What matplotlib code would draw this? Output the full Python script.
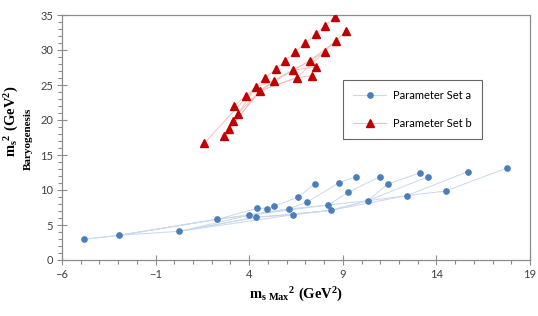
import matplotlib
matplotlib.use("Agg")
import matplotlib.pyplot as plt
from matplotlib.ticker import MultipleLocator
from matplotlib.lines import Line2D

plt.rcParams["mathtext.fontset"] = "custom"
plt.rcParams["mathtext.rm"] = "Liberation Serif:bold"
plt.rcParams["mathtext.it"] = "Liberation Serif:bold"
plt.rcParams["mathtext.bf"] = "Liberation Serif:bold"

# ---- data: Parameter Set a (blue) ----
a_x = [-4.82, -2.94, 0.27, 2.30, 3.99, 4.35, 4.42, 4.95, 5.31, 6.11, 6.36, 6.61, 7.11, 7.51,
       8.23, 8.37, 8.80, 9.28, 9.71, 10.33, 10.97, 11.41, 12.41, 13.14, 13.55, 14.50, 15.67, 17.77]
a_y = [2.96, 3.53, 4.10, 5.81, 6.39, 6.10, 7.39, 7.33, 7.67, 7.29, 6.47, 8.96, 8.29, 10.90,
       7.86, 7.10, 11.04, 9.67, 11.90, 8.47, 11.90, 10.86, 9.19, 12.47, 11.90, 9.86, 12.61, 13.14]
# chains of point indices joined by lines
a_chains = [
    [0, 1, 2, 5, 10, 15, 22, 25, 27],
    [0, 1, 3, 4, 9, 14, 19, 22, 26],
    [1, 3, 6, 7, 8, 11, 13],
    [1, 3, 9, 12, 16, 18],
    [2, 4, 14, 17, 20],
    [2, 5, 15, 19, 21, 23],
    [2, 10, 15, 19, 24],
]

# ---- data: Parameter Set b (red) ----
b_x = [1.60, 2.64, 2.90, 3.15, 3.39, 3.20, 3.83, 4.35, 4.58, 4.86, 5.31, 5.42, 5.93,
       6.32, 6.54, 6.46, 7.00, 7.25, 7.34, 7.55, 7.55, 8.03, 8.05, 8.57, 8.62, 9.19]
b_y = [16.67, 17.71, 18.76, 19.86, 20.90, 22.04, 23.43, 24.71, 24.19, 26.00, 25.61, 27.24, 28.47,
       27.10, 26.04, 29.76, 30.96, 28.47, 26.33, 32.24, 27.57, 29.76, 33.47, 34.67, 31.29, 32.67]
b_chains = [
    [5, 6, 7, 9, 11, 12, 15, 16, 19, 22, 23],
    [0, 7, 8, 10, 13, 17, 21, 24, 25],
    [1, 8, 14, 18],
    [2, 8, 13, 20],
    [3, 7, 10, 17, 24],
    [4, 8, 14, 21],
]

labels = ["Parameter Set a", "Parameter Set b"]
x_ticks = [-6, -1, 4, 9, 14, 19]
y_ticks = [0, 5, 10, 15, 20, 25, 30, 35]

blue, blue_line = "#4A7EBB", "#C9D8EC"
red, red_line = "#C00000", "#F2C0C0"
grey = "#8C8C8C"

fig = plt.figure(figsize=(5.38, 3.16), dpi=100)
ax = fig.add_axes([62 / 538, 56 / 316, (530 - 62) / 538, (260 - 15) / 316])

for ch in a_chains:
    ax.plot([a_x[i] for i in ch], [a_y[i] for i in ch], color=blue_line, lw=0.7, zorder=1)
for ch in b_chains:
    ax.plot([b_x[i] for i in ch], [b_y[i] for i in ch], color=red_line, lw=0.7, zorder=1)
ax.plot(a_x, a_y, ls="none", marker="o", ms=3.8, color=blue, zorder=3)
ax.plot(b_x, b_y, ls="none", marker="^", ms=5.5, color=red, zorder=3)

ax.set_xlim(x_ticks[0], x_ticks[-1])
ax.set_ylim(y_ticks[0], y_ticks[-1])
ax.set_xticks(x_ticks)
ax.set_yticks(y_ticks)
ax.xaxis.set_minor_locator(MultipleLocator(1))
ax.yaxis.set_minor_locator(MultipleLocator(1))
ax.tick_params(which="major", direction="inout", length=7, width=0.8, color=grey,
               labelsize=8, labelcolor="#404040", pad=3)
ax.tick_params(which="minor", direction="out", length=3, width=0.8, color=grey)
for s in ax.spines.values():
    s.set_color(grey)
    s.set_linewidth(0.9)
for lab in ax.get_xticklabels() + ax.get_yticklabels():
    lab.set_family("Lato")

ax.set_xlabel(r"$\mathrm{m_{s\ Max}}^{\mathrm{2}}\ \mathrm{(GeV^2)}$", fontsize=10.5, labelpad=4)
fig.text(12 / 538, 1 - 121 / 316, r"$\mathrm{m_s}^{\mathrm{2}}\ \mathrm{(GeV^2)}$",
         rotation=90, ha="center", va="center", fontsize=10.5)
fig.text(28 / 538, 1 - 139 / 316, "Baryogenesis", rotation=90, ha="center", va="center",
         fontsize=8, fontweight="bold", family="Liberation Serif")

handles = [
    Line2D([], [], color=blue_line, lw=0.8, marker="o", ms=3.8, mfc=blue, mec=blue),
    Line2D([], [], color=red_line, lw=0.8, marker="^", ms=5.5, mfc=red, mec=red),
]
leg = fig.legend(handles, labels, loc="upper left", bbox_to_anchor=(343 / 538, 1 - 80 / 316),
                 borderaxespad=0, frameon=True, fancybox=False,
                 edgecolor="#404040", handlelength=3.0, handletextpad=0.6,
                 labelspacing=1.5, borderpad=0.9,
                 prop={"family": "Lato", "size": 8})
leg.get_frame().set_linewidth(0.8)

fig.savefig("out.png", dpi=100)
